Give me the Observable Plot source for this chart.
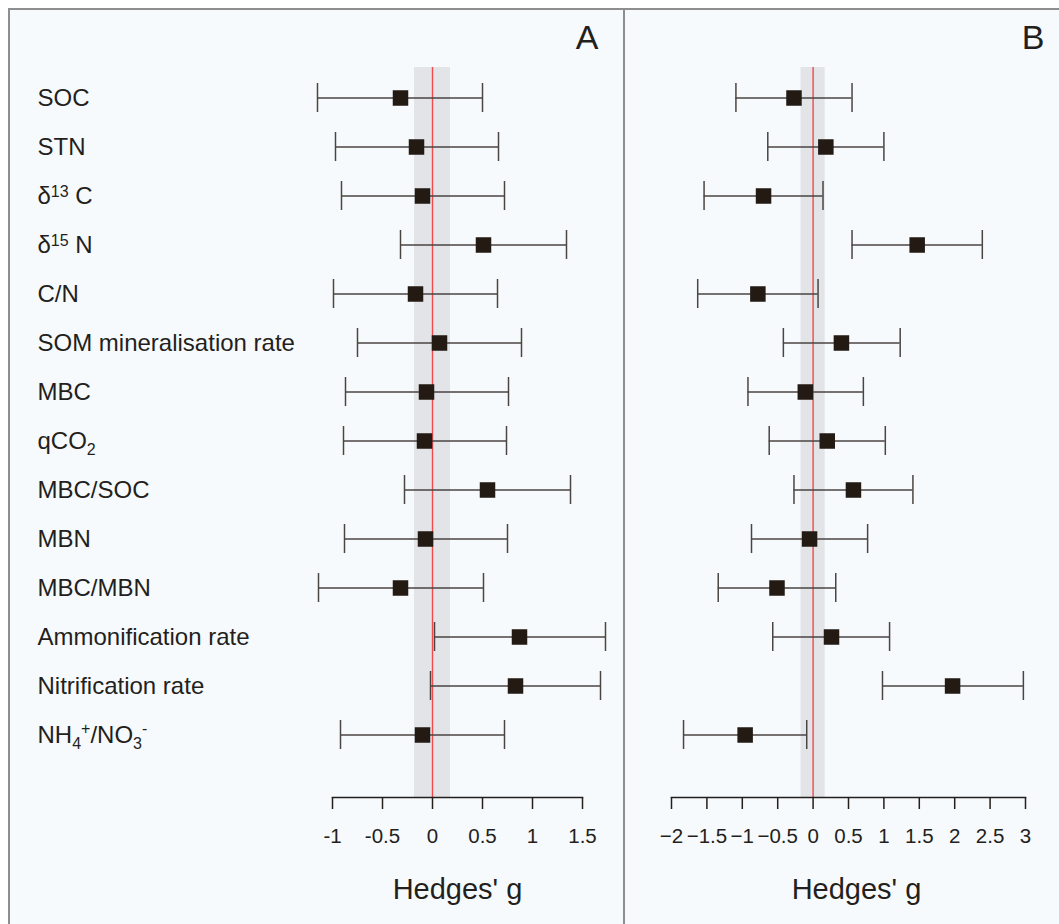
<!DOCTYPE html>
<html><head><meta charset="utf-8">
<script src="https://cdn.jsdelivr.net/npm/d3@7"></script>
<script src="https://cdn.jsdelivr.net/npm/@observablehq/plot@0.6"></script>
<style>
html,body{margin:0;padding:0;background:#fff;}
#wrap{position:relative;width:1059px;height:924px;overflow:hidden;background:#fff;}
.panel{position:absolute;box-sizing:border-box;border:2px solid #8e8e8e;background:#f7fafc;}
.plot{position:absolute;top:0;}
</style></head><body>
<div id="wrap">
 <div class="panel" style="left:8px;top:8px;width:617px;height:940px"></div>
 <div class="panel" style="left:623px;top:8px;width:460px;height:940px"></div>
 <div class="plot" id="pA" style="left:0"></div>
 <div class="plot" id="pB" style="left:624px"></div>
</div>
<script>
// ---- data ----
const measures = ["SOC","STN","δ13C","δ15N","C/N","SOM mineralisation rate","MBC","qCO2","MBC/SOC","MBN","MBC/MBN","Ammonification rate","Nitrification rate","NH4+/NO3-"];
// Panel A
const gA  = [-0.32,-0.16,-0.10, 0.51,-0.17, 0.07,-0.06,-0.08, 0.55,-0.07,-0.32, 0.87, 0.83,-0.10];
const loA = [-1.15,-0.97,-0.91,-0.32,-0.99,-0.75,-0.87,-0.89,-0.28,-0.88,-1.14, 0.02,-0.02,-0.92];
const hiA = [ 0.50, 0.66, 0.72, 1.34, 0.65, 0.89, 0.76, 0.74, 1.38, 0.75, 0.51, 1.73, 1.68, 0.72];
// Panel B
const gB  = [-0.27, 0.18,-0.70, 1.47,-0.78, 0.40,-0.11, 0.20, 0.57,-0.05,-0.51, 0.26, 1.97,-0.96];
const loB = [-1.09,-0.64,-1.54, 0.55,-1.63,-0.42,-0.92,-0.62,-0.27,-0.87,-1.34,-0.57, 0.98,-1.83];
const hiB = [ 0.55, 1.00, 0.14, 2.39, 0.07, 1.23, 0.71, 1.02, 1.41, 0.77, 0.32, 1.08, 2.97,-0.09];
// grey band around zero
const bandA = [-0.18, 0.18];
const bandB = [-0.17, 0.17];
// axis ticks
const ticksA = [-1,-0.5,0,0.5,1,1.5];
const ticksB = [-2,-1.5,-1,-0.5,0,0.5,1,1.5,2,2.5,3];
const xTitle = "Hedges' g";
const panelLabels = ["A","B"];

// rich label markup (sub/superscripts)
const rich = {
  "δ13C": 'δ<tspan font-size="16" dy="-7">13</tspan><tspan dy="7"> C</tspan>',
  "δ15N": 'δ<tspan font-size="16" dy="-7">15</tspan><tspan dy="7"> N</tspan>',
  "qCO2": 'qCO<tspan font-size="16" dy="6">2</tspan>',
  "NH4+/NO3-": 'NH<tspan font-size="16" dy="6">4</tspan><tspan font-size="16" dy="-15">+</tspan><tspan dy="9">/NO</tspan><tspan font-size="16" dy="6">3</tspan><tspan font-size="16" dy="-15">-</tspan>'
};

const FONT = '"Liberation Sans", Arial, Helvetica, sans-serif';
const INK = "#231f1d";
const LINE = "#4a4543";
const SQ = "#231a14";

function rows(g, lo, hi) { return measures.map((m, i) => ({measure: m, g: g[i], lo: lo[i], hi: hi[i]})); }

function panel({data, band, ticks, tickFormat, width, marginLeft, marginRight, label, withY, titleDx, labelDx}) {
  const marks = [
    Plot.rect([band], {x1: d => d[0], x2: d => d[1], fill: "#e2e4e7"}),
    Plot.ruleX([0], {stroke: "#f24a4a", strokeWidth: 1.4}),
    Plot.ruleY(data, {y: "measure", x1: "lo", x2: "hi", stroke: LINE, strokeWidth: 1.4}),
    Plot.tickX(data, {y: "measure", x: "lo", insetTop: 10, insetBottom: 10, stroke: LINE, strokeWidth: 1.5}),
    Plot.tickX(data, {y: "measure", x: "hi", insetTop: 10, insetBottom: 10, stroke: LINE, strokeWidth: 1.5}),
    Plot.dot(data, {y: "measure", x: "g", symbol: "square", r: 8.75, fill: SQ}),
    Plot.frame({anchor: "bottom", stroke: INK, strokeWidth: 1.5}),
    Plot.axisX({ticks, tickFormat, tickSize: 12, tickPadding: 19, fontSize: 20.5, strokeWidth: 1.5, label: null}),
    Plot.text([xTitle], {text: d => d, frameAnchor: "bottom", lineAnchor: "bottom", dy: 101, dx: titleDx, fontSize: 29, fill: INK}),
    Plot.text([label], {text: d => d, frameAnchor: "top-right", textAnchor: "end", lineAnchor: "bottom", dx: labelDx, dy: -19, fontSize: 34, fill: INK})
  ];
  if (withY) marks.push(Plot.axisY({tickSize: 0, tickPadding: 295, textAnchor: "start", fontSize: 24, label: null}));
  const y = {type: "band", domain: measures, range: [73.2, 759.2], padding: 0, label: null};
  if (!withY) y.axis = null;
  return Plot.plot({
    width, height: 924, marginLeft, marginRight, marginTop: 67, marginBottom: 127,
    style: {background: "transparent", fontFamily: FONT, color: INK, overflow: "visible"},
    x: {domain: [ticks[0], ticks[ticks.length - 1]], label: null},
    y,
    marks
  });
}

const plotA = panel({data: rows(gA, loA, hiA), band: bandA, ticks: ticksA, tickFormat: d => String(d),
  width: 624, marginLeft: 332, marginRight: 42, label: panelLabels[0], withY: true, titleDx: 0, labelDx: 16});
const plotB = panel({data: rows(gB, loB, hiB), band: bandB, ticks: ticksB, tickFormat: d => (d < 0 ? "\u2212" : "") + String(Math.abs(d)),
  width: 435, marginLeft: 47, marginRight: 34, label: panelLabels[1], withY: false, titleDx: 8, labelDx: 19});

plotA.querySelectorAll('g[aria-label="y-axis tick label"] text').forEach(t => {
  const k = t.textContent;
  if (rich[k]) t.innerHTML = rich[k];
});

document.getElementById("pA").appendChild(plotA);
document.getElementById("pB").appendChild(plotB);
</script>
</body></html>
